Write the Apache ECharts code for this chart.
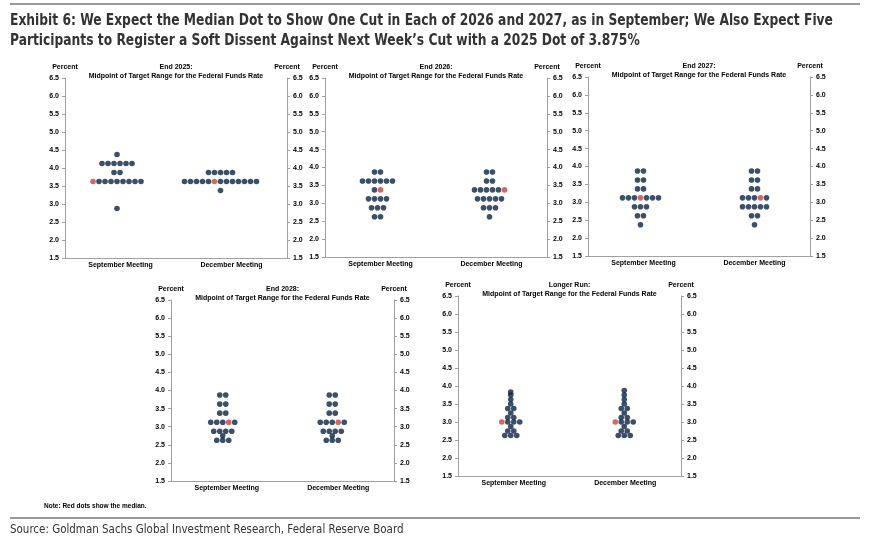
<!DOCTYPE html>
<html><head><meta charset="utf-8">
<script src="https://cdn.jsdelivr.net/npm/echarts@6/dist/echarts.min.js"></script>
<style>html,body{margin:0;padding:0;background:#fff}#c{width:875px;height:542px}</style>
</head><body><div id="c"></div><script>
// ---------- text ----------
const exhibitTitle1 = 'Exhibit 6: We Expect the Median Dot to Show One Cut in Each of 2026 and 2027, as in September; We Also Expect Five';
const exhibitTitle2 = 'Participants to Register a Soft Dissent Against Next Week\u2019s Cut with a 2025 Dot of 3.875%';
const noteText = 'Note: Red dots show the median.';
const sourceText = 'Source: Goldman Sachs Global Investment Research, Federal Reserve Board';
const meetings = ['September Meeting', 'December Meeting'];
const panelTitles = ['End 2025:', 'End 2026:', 'End 2027:', 'End 2028:', 'Longer Run:'];
const panelSubtitle = 'Midpoint of Target Range for the Federal Funds Rate';
const axisName = 'Percent';
const yMin = 1.5, yMax = 6.5, yStep = 0.5;

// ---------- data: rate levels and number of participants at each ----------
const end2025Rates = [4.375, 4.125, 3.875, 3.625, 3.375, 2.875];
const end2025Sep   = [1, 6, 2, 9, 0, 1];
const end2025Dec   = [0, 0, 5, 13, 1, 0];
const end2025Median = [[3.625, 0], [3.625, 5]];   // [rate, slot within row] Sep, Dec

const end2026Rates = [3.875, 3.625, 3.375, 3.125, 2.875, 2.625];
const end2026Sep   = [2, 6, 2, 4, 3, 2];
const end2026Dec   = [2, 2, 6, 5, 3, 1];
const end2026Median = [[3.375, 1], [3.375, 5]];

const end2027Rates = [3.875, 3.625, 3.375, 3.125, 2.875, 2.625, 2.375];
const end2027Sep   = [2, 2, 2, 7, 3, 2, 1];
const end2027Dec   = [2, 2, 2, 5, 5, 2, 1];
const end2027Median = [[3.125, 3], [3.125, 3]];

const end2028Rates = [3.875, 3.625, 3.375, 3.125, 2.875, 2.75, 2.625];
const end2028Sep   = [2, 2, 2, 5, 4, 1, 3];
const end2028Dec   = [2, 2, 2, 5, 4, 1, 3];
const end2028Median = [[3.125, 3], [3.125, 3]];

const longerRunRates = [3.875, 3.83, 3.75, 3.625, 3.5, 3.375, 3.25, 3.125, 3.0, 2.875, 2.75, 2.625];
const longerRunSep   = [0, 1, 1, 1, 1, 2, 1, 2, 4, 1, 2, 3];
const longerRunDec   = [1, 0, 1, 1, 1, 2, 1, 2, 4, 1, 2, 3];
const longerRunMedian = [[3.0, 0], [3.0, 0]];

const panels = [
  { rates: end2025Rates, counts: [end2025Sep, end2025Dec], median: end2025Median },
  { rates: end2026Rates, counts: [end2026Sep, end2026Dec], median: end2026Median },
  { rates: end2027Rates, counts: [end2027Sep, end2027Dec], median: end2027Median },
  { rates: end2028Rates, counts: [end2028Sep, end2028Dec], median: end2028Median },
  { rates: longerRunRates, counts: [longerRunSep, longerRunDec], median: longerRunMedian }
];

// ---------- layout / style ----------
const grids = [
  { left: 65,  top: 78,  width: 222, height: 180 },
  { left: 325, top: 78,  width: 222, height: 179 },
  { left: 588, top: 77,  width: 222, height: 179 },
  { left: 171, top: 300, width: 223, height: 181 },
  { left: 458, top: 296, width: 223, height: 180 }
];
const colShift = [[-3.5, -11], [-3, -2], [-3, 0], [-4, -6], [-3, -1]];
const DOT = 5.6, GAP = 6;
const NAVY = '#0a2343', RED = '#c8423c', AXIS = '#a0a0a0';
const FONT = '"Liberation Sans", Arial, sans-serif';
const NARROW = '"DejaVu Sans Condensed", "Liberation Sans", sans-serif';
const lbl = { fontSize: 7, fontWeight: 'bold', color: '#000', fontFamily: FONT };

const xAxis = [], yAxis = [], series = [], graphic = [];
panels.forEach((p, pi) => {
  const g = grids[pi];
  xAxis.push({
    gridIndex: pi, type: 'category', data: meetings, boundaryGap: true,
    axisLine: { lineStyle: { color: AXIS, width: 1 } },
    axisTick: { length: 3, lineStyle: { color: AXIS } },
    axisLabel: Object.assign({ margin: 4 }, lbl)
  });
  ['left', 'right'].forEach(pos => {
    yAxis.push({
      gridIndex: pi, type: 'value', position: pos, min: yMin, max: yMax, interval: yStep,
      name: axisName, nameLocation: 'end', nameGap: 7,
      nameTextStyle: Object.assign({ align: 'center' }, lbl),
      axisLine: { show: true, lineStyle: { color: AXIS, width: 1 } },
      axisTick: { show: true, length: 3, lineStyle: { color: AXIS } },
      splitLine: { show: false },
      axisLabel: Object.assign({ margin: 6, formatter: v => v.toFixed(1) }, lbl)
    });
  });
  const data = [];
  p.counts.forEach((cnt, m) => {
    cnt.forEach((n, ri) => {
      const rate = p.rates[ri];
      for (let k = 0; k < n; k++) {
        const isMed = p.median[m][0] === rate && p.median[m][1] === k;
        data.push({
          value: [m, rate],
          symbolOffset: [(k - (n - 1) / 2) * GAP + colShift[pi][m], 0],
          itemStyle: { color: isMed ? RED : NAVY }
        });
      }
    });
  });
  series.push({
    type: 'scatter', xAxisIndex: pi, yAxisIndex: pi * 2, symbolSize: DOT,
    silent: true, data: data
  });
  const cx = g.left + g.width / 2;
  graphic.push({ type: 'text', x: cx, y: g.top - 11, style: { text: panelTitles[pi], font: 'bold 7px ' + FONT, fill: '#000', align: 'center', verticalAlign: 'middle' } });
  graphic.push({ type: 'text', x: cx, y: g.top - 2, style: { text: panelSubtitle, font: 'bold 7px ' + FONT, fill: '#000', align: 'center', verticalAlign: 'middle' } });
});

graphic.push(
  { type: 'line', shape: { x1: 10, y1: 4, x2: 860, y2: 4 }, style: { stroke: '#9a9a9a', lineWidth: 2 } },
  { type: 'text', x: 10, y: 21, scaleX: 0.91, style: { text: exhibitTitle1, font: 'bold 15px ' + NARROW, fill: '#333', verticalAlign: 'middle' } },
  { type: 'text', x: 10, y: 41, scaleX: 0.91, style: { text: exhibitTitle2, font: 'bold 15px ' + NARROW, fill: '#333', verticalAlign: 'middle' } },
  { type: 'text', x: 44, y: 506, style: { text: noteText, font: 'bold 6.5px ' + FONT, fill: '#000', verticalAlign: 'middle' } },
  { type: 'line', shape: { x1: 10, y1: 518, x2: 860, y2: 518 }, style: { stroke: '#9a9a9a', lineWidth: 2 } },
  { type: 'text', x: 10, y: 530, scaleX: 0.955, style: { text: sourceText, font: '12px ' + NARROW, fill: '#333', verticalAlign: 'middle' } }
);

const chart = echarts.init(document.getElementById('c'), null, { renderer: 'canvas' });
chart.setOption({
  animation: false,
  backgroundColor: '#fff',
  grid: grids,
  xAxis: xAxis,
  yAxis: yAxis,
  series: series,
  graphic: graphic
});
</script></body></html>
